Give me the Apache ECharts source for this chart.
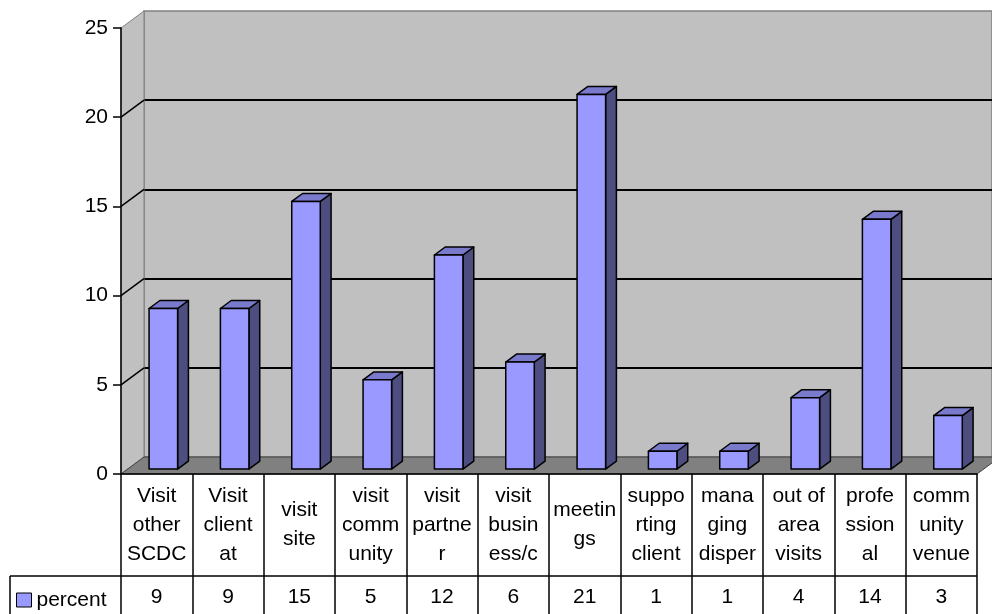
<!DOCTYPE html>
<html>
<head>
<meta charset="utf-8">
<script src="https://cdn.jsdelivr.net/npm/echarts@6/dist/echarts.min.js"></script>
<style>
html,body{margin:0;padding:0;background:#fff;}
#chart{width:992px;height:614px;}
</style>
</head>
<body>
<div id="chart"></div>
<script>
// ---- data ----
const categories = [
  'Visit\nother\nSCDC', 'Visit\nclient\nat', 'visit\nsite', 'visit\ncomm\nunity',
  'visit\npartne\nr', 'visit\nbusin\ness/c', 'meetin\ngs', 'suppo\nrting\nclient',
  'mana\nging\ndisper', 'out of\narea\nvisits', 'profe\nssion\nal', 'comm\nunity\nvenue'
];
const seriesName = 'percent';
const values = [9, 9, 15, 5, 12, 6, 21, 1, 1, 4, 14, 3];
const yMin = 0, yMax = 25, yStep = 5;

// ---- layout / style ----
const FONT = '"Liberation Sans", Arial, sans-serif';
const FS = 21;
const DX = 23, DY = -17;          // depth offset of the 3D box
const G = {left: 121, right: 15, top: 28, bottom: 140};
const ROW1 = 102;                 // height of category row in data table
const LEGEND_LEFT = 10;
const LW = 1.5;

const chart = echarts.init(document.getElementById('chart'), null, {renderer: 'canvas'});

function frameItem(params, api) {
  const cs = params.coordSys;
  const x0 = cs.x, x1 = cs.x + cs.width;
  const y0 = api.coord([0, yMin])[1];
  const yT = api.coord([0, yMax])[1];
  const ch = [];
  // left side wall
  ch.push({type: 'polygon', shape: {points: [[x0, y0], [x0, yT], [x0 + DX, yT + DY], [x0 + DX, y0 + DY]]},
    style: {fill: '#c0c0c0', stroke: '#808080', lineWidth: 1}});
  // gridlines on side wall
  for (let v = yMin + yStep; v < yMax; v += yStep) {
    const y = api.coord([0, v])[1];
    ch.push({type: 'line', shape: {x1: x0, y1: y, x2: x0 + DX, y2: y + DY},
      style: {stroke: '#000', lineWidth: LW}});
  }
  // floor
  ch.push({type: 'polygon', shape: {points: [[x0, y0], [x1, y0], [x1 + DX, y0 + DY], [x0 + DX, y0 + DY]]},
    style: {fill: '#808080', stroke: '#404040', lineWidth: 1}});
  // data table: value row top line + legend cell border
  const yr = y0 + ROW1;
  ch.push({type: 'line', shape: {x1: LEGEND_LEFT, y1: yr, x2: x1, y2: yr}, style: {stroke: '#000', lineWidth: LW}});
  ch.push({type: 'line', shape: {x1: LEGEND_LEFT, y1: yr, x2: LEGEND_LEFT, y2: 700}, style: {stroke: '#000', lineWidth: LW}});
  return {type: 'group', children: ch};
}

function barItem(params, api) {
  const i = api.value(0), v = api.value(1);
  const top = api.coord([i, v]);
  const base = api.coord([i, 0]);
  const band = api.size([1, 0])[0];
  const w = band * 0.4;
  const f1 = 0.29, f2 = 0.76;
  const ox = f1 * DX, oy = f1 * DY;
  const dx = (f2 - f1) * DX, dy = (f2 - f1) * DY;
  const xl = top[0] - w / 2 + ox, xr = xl + w;
  const yt = top[1] + oy, yb = base[1] + oy;
  const st = {stroke: '#000', lineWidth: LW, lineJoin: 'round'};
  return {type: 'group', children: [
    {type: 'polygon', shape: {points: [[xr, yt], [xr + dx, yt + dy], [xr + dx, yb + dy], [xr, yb]]},
      style: Object.assign({fill: '#4d4d80'}, st)},
    {type: 'polygon', shape: {points: [[xl, yt], [xr, yt], [xr + dx, yt + dy], [xl + dx, yt + dy]]},
      style: Object.assign({fill: '#7a7acc'}, st)},
    {type: 'polygon', shape: {points: [[xl, yt], [xr, yt], [xr, yb], [xl, yb]]},
      style: Object.assign({fill: '#9999ff'}, st)}
  ]};
}

const option = {
  animation: false,
  backgroundColor: '#ffffff',
  textStyle: {fontFamily: FONT},
  grid: [
    {left: G.left, right: G.right, top: G.top, bottom: G.bottom, containLabel: false},
    {left: G.left + DX, right: G.right - DX, top: G.top + DY, bottom: G.bottom - DY,
     show: true, backgroundColor: '#c0c0c0', borderColor: '#808080', borderWidth: 1.5}
  ],
  legend: {
    data: [{name: seriesName, icon: 'rect',
            itemStyle: {color: '#9999ff', borderColor: '#000', borderWidth: 1}}],
    left: 16, top: 589, padding: 0,
    itemWidth: 15, itemHeight: 14, itemGap: 5,
    textStyle: {fontSize: FS, color: '#000', fontFamily: FONT, lineHeight: 22},
    selectedMode: false
  },
  xAxis: [
    {type: 'category', gridIndex: 0, data: categories, z: 10,
     axisLine: {show: true, lineStyle: {color: '#000', width: LW}},
     axisTick: {show: true, interval: 0, length: 160, lineStyle: {color: '#000', width: LW}},
     axisLabel: {interval: 0, margin: 51, fontSize: FS, lineHeight: 29, color: '#000',
                 verticalAlign: 'middle', fontFamily: FONT},
     splitLine: {show: false}},
    {type: 'category', gridIndex: 0, data: values.map(String), position: 'bottom', offset: ROW1,
     axisLine: {show: false}, axisTick: {show: false},
     axisLabel: {interval: 0, margin: 21, fontSize: FS, color: '#000', verticalAlign: 'middle', fontFamily: FONT},
     splitLine: {show: false}},
    {type: 'value', gridIndex: 1, show: false, min: 0, max: 1}
  ],
  yAxis: [
    {type: 'value', gridIndex: 0, min: yMin, max: yMax, interval: yStep, z: 10,
     axisLine: {show: true, lineStyle: {color: '#000', width: LW}},
     axisTick: {show: true, length: 8, lineStyle: {color: '#000', width: LW}},
     axisLabel: {fontSize: FS, color: '#000', margin: 13, fontFamily: FONT},
     splitLine: {show: false}},
    {type: 'value', gridIndex: 1, min: yMin, max: yMax, interval: yStep,
     axisLine: {show: false}, axisTick: {show: false}, axisLabel: {show: false},
     splitLine: {show: true, showMinLine: false, showMaxLine: false, lineStyle: {color: '#000', width: 2}}}
  ],
  series: [
    {type: 'custom', name: 'frame', xAxisIndex: 0, yAxisIndex: 0, z: 1, silent: true, clip: false,
     data: [[0, 0]], renderItem: frameItem},
    {type: 'custom', name: seriesName, xAxisIndex: 0, yAxisIndex: 0, z: 3, clip: false,
     itemStyle: {color: '#9999ff'},
     data: values.map((v, i) => [i, v]), renderItem: barItem}
  ]
};
chart.setOption(option);
</script>
</body>
</html>
